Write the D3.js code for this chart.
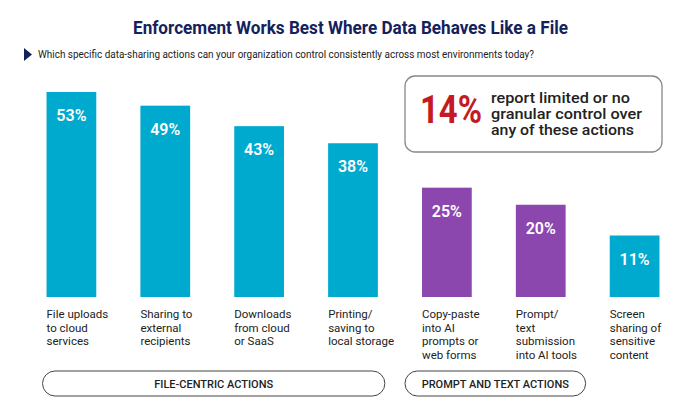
<!DOCTYPE html>
<html>
<head>
<meta charset="utf-8">
<script src="https://cdn.jsdelivr.net/npm/d3@7"></script>
<style>
  body { margin: 0; background: #fff; }
  svg { display: block; font-family: Roboto, "Noto Sans", sans-serif; }
</style>
</head>
<body>
<svg id="chart" width="692" height="415"></svg>
<script>
// chart data
var categories = [
    [ 'File uploads', 'to cloud', 'services' ],
    [ 'Sharing to', 'external', 'recipients' ],
    [ 'Downloads', 'from cloud', 'or SaaS' ],
    [ 'Printing/', 'saving to', 'local storage' ],
    [ 'Copy-paste', 'into AI', 'prompts or', 'web forms' ],
    [ 'Prompt/', 'text', 'submission', 'into AI tools' ],
    [ 'Screen', 'sharing of', 'sensitive', 'content' ]
];
var values = [ 53, 49, 43, 38, 25, 20, 11 ];
var kinds = [ 'file', 'file', 'file', 'file', 'prompt', 'prompt', 'file' ];
var groups = [
    { label: 'FILE-CENTRIC ACTIONS', from: 0, to: 3 },
    { label: 'PROMPT AND TEXT ACTIONS', from: 4, to: 5 }
];
var title = 'Enforcement Works Best Where Data Behaves Like a File';
var subtitle = 'Which specific data-sharing actions can your organization control consistently across most environments today?';
var calloutValue = '14%';
var calloutLines = [ 'report limited or no', 'granular control over', 'any of these actions' ];

var colors = { file: '#00a9ce', prompt: '#8c47ae' };
var navy = '#14215c';
var ink = '#222';

var svg = d3.select( '#chart' );

// title + question
svg.append( 'text' )
    .attr( 'x', 133 ).attr( 'y', 34 )
    .attr( 'textLength', 435 ).attr( 'lengthAdjust', 'spacingAndGlyphs' )
    .style( 'font-size', '18px' ).style( 'font-weight', 700 )
    .style( 'fill', navy )
    .text( title );

svg.append( 'path' )
    .attr( 'd', 'M24,48 L32,54.5 L24,61 Z' )
    .style( 'fill', navy );

svg.append( 'text' )
    .attr( 'x', 38 ).attr( 'y', 58 )
    .attr( 'textLength', 496 ).attr( 'lengthAdjust', 'spacingAndGlyphs' )
    .style( 'font-size', '10px' )
    .style( 'fill', ink )
    .text( subtitle );

// scales
var x = d3.scaleBand()
    .domain( d3.range( values.length ) )
    .range( [ 24, 682 ] )
    .paddingInner( 0.47 )
    .paddingOuter( 0.24 );

var y = d3.scaleLinear()
    .domain( [ -7, 53 ] )
    .range( [ 297, 92 ] );

var bars = svg.append( 'g' ).selectAll( 'g' )
    .data( values )
    .enter().append( 'g' );

bars.append( 'rect' )
    .attr( 'x', function( d, i ) { return x( i ); } )
    .attr( 'y', function( d ) { return y( d ); } )
    .attr( 'width', x.bandwidth() )
    .attr( 'height', function( d ) { return y( -7 ) - y( d ); } )
    .style( 'fill', function( d, i ) { return colors[ kinds[ i ] ]; } );

bars.append( 'text' )
    .attr( 'x', function( d, i ) { return x( i ) + x.bandwidth() / 2; } )
    .attr( 'y', function( d ) { return y( d ) + 29; } )
    .attr( 'text-anchor', 'middle' )
    .style( 'font-size', '16px' ).style( 'font-weight', 600 )
    .style( 'fill', '#fff' )
    .text( function( d ) { return d + '%'; } );

// category labels
var labels = svg.append( 'g' ).selectAll( 'text' )
    .data( categories )
    .enter().append( 'text' )
    .attr( 'x', function( d, i ) { return x( i ); } )
    .attr( 'y', 318 )
    .style( 'font-size', '11.5px' )
    .style( 'fill', ink );

labels.selectAll( 'tspan' )
    .data( function( d ) { return d; } )
    .enter().append( 'tspan' )
    .attr( 'x', function() { return d3.select( this.parentNode ).attr( 'x' ); } )
    .attr( 'dy', function( d, i ) { return i ? 13.7 : 0; } )
    .text( function( d ) { return d; } );

// group pills (first one hugs the bars, the second is padded wider)
function pillLeft( d, i ) { return x( d.from ) - ( i ? 17 : 4 ); }
function pillRight( d, i ) { return x( d.to ) + x.bandwidth() + ( i ? 20 : 7 ); }

var pills = svg.append( 'g' ).selectAll( 'g' )
    .data( groups )
    .enter().append( 'g' );

pills.append( 'rect' )
    .attr( 'x', pillLeft )
    .attr( 'y', 371 )
    .attr( 'width', function( d, i ) { return pillRight( d, i ) - pillLeft( d, i ); } )
    .attr( 'height', 25 )
    .attr( 'rx', 12.5 )
    .style( 'fill', 'none' )
    .style( 'stroke', '#444' )
    .style( 'stroke-width', 1 );

pills.append( 'text' )
    .attr( 'x', function( d, i ) { return ( pillLeft( d, i ) + pillRight( d, i ) ) / 2; } )
    .attr( 'y', 388 )
    .attr( 'text-anchor', 'middle' )
    .style( 'font-size', '11px' ).style( 'font-weight', 500 )
    .style( 'fill', ink )
    .text( function( d ) { return d.label; } );

// callout
var callout = svg.append( 'g' );

callout.append( 'rect' )
    .attr( 'x', 405 ).attr( 'y', 76 )
    .attr( 'width', 257 ).attr( 'height', 76 )
    .attr( 'rx', 10 )
    .style( 'fill', '#fff' )
    .style( 'stroke', '#888' )
    .style( 'stroke-width', 1.3 );

callout.append( 'text' )
    .attr( 'x', 420 ).attr( 'y', 123 )
    .attr( 'textLength', 62 ).attr( 'lengthAdjust', 'spacingAndGlyphs' )
    .style( 'font-size', '39px' ).style( 'font-weight', 700 )
    .style( 'fill', '#c41a24' )
    .text( calloutValue );

callout.append( 'text' )
    .selectAll( 'tspan' )
    .data( calloutLines )
    .enter().append( 'tspan' )
    .attr( 'x', 491 )
    .attr( 'y', function( d, i ) { return 103 + i * 16; } )
    .attr( 'textLength', function( d, i ) { return [ 139, 151, 143 ][ i ]; } )
    .attr( 'lengthAdjust', 'spacingAndGlyphs' )
    .style( 'font-size', '15px' ).style( 'font-weight', 500 )
    .style( 'fill', ink )
    .text( function( d ) { return d; } );
</script>
</body>
</html>
